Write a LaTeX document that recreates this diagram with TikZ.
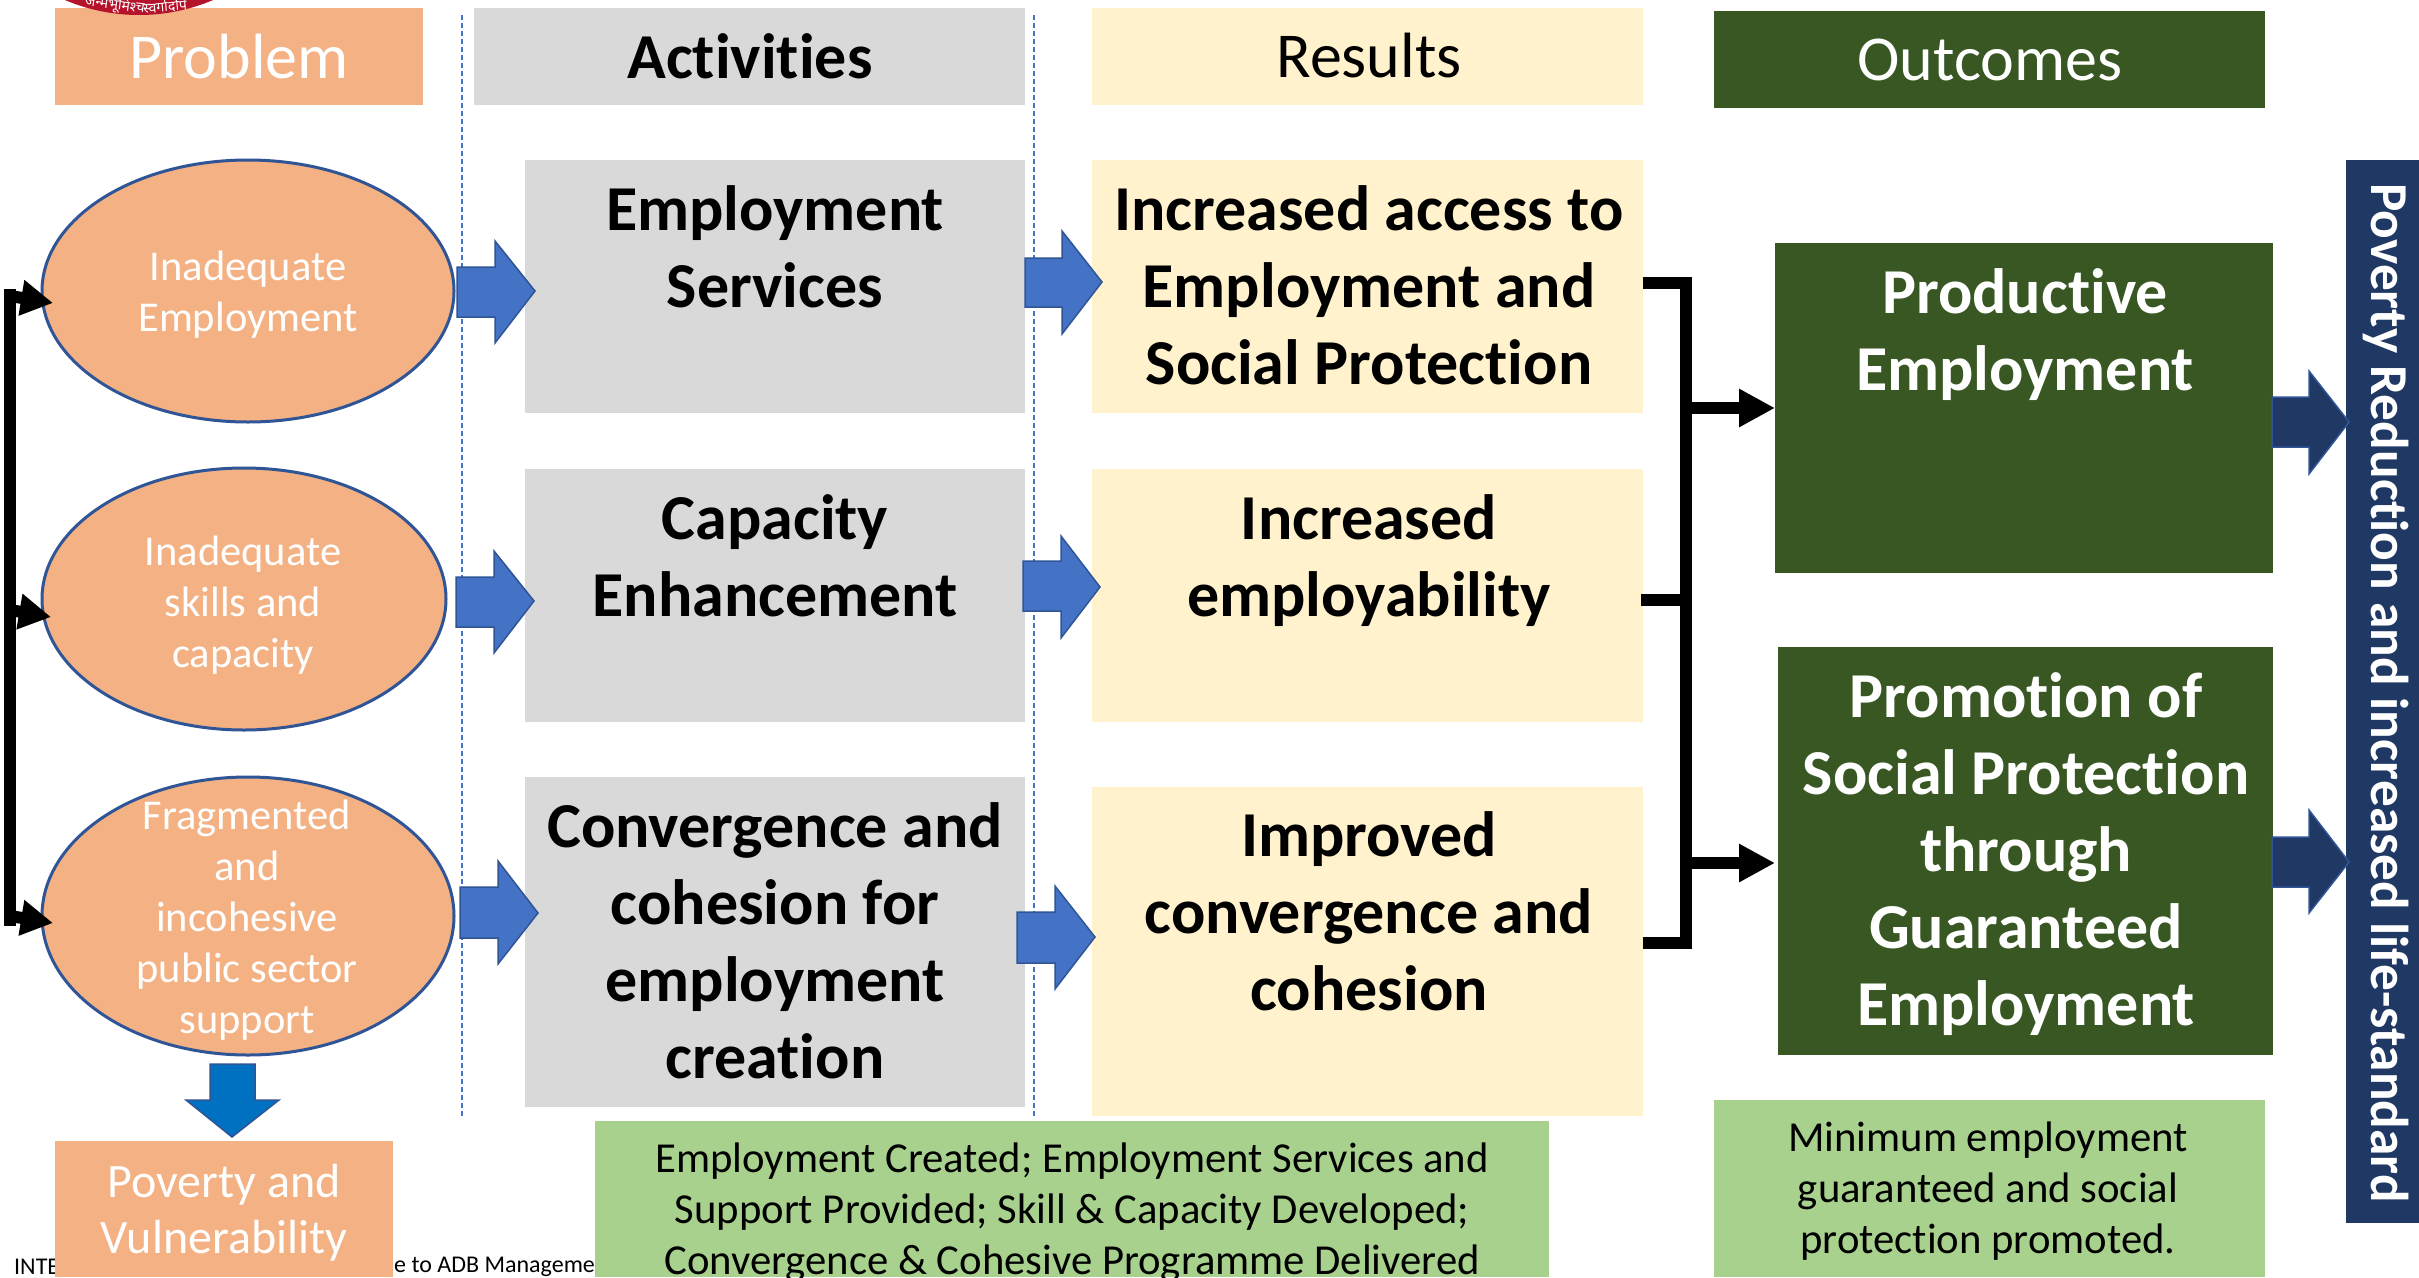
\documentclass[tikz,border=0pt]{standalone}
\usepackage{fontspec}
\setmainfont{Carlito}[RawFeature=-liga]
\newfontfamily\devafont[Script=Devanagari]{Noto Sans}
\usetikzlibrary{arrows.meta,shapes.geometric,calc}
\definecolor{peach}{HTML}{F4B183}
\definecolor{greyb}{HTML}{D9D9D9}
\definecolor{creamb}{HTML}{FFF2CC}
\definecolor{forest}{HTML}{385723}
\definecolor{leaf}{HTML}{A9D18E}
\definecolor{navy}{HTML}{203864}
\definecolor{bluea}{HTML}{4472C4}
\definecolor{blueline}{HTML}{2F5597}
\definecolor{downb}{HTML}{0070C0}
\definecolor{seal}{HTML}{B5122B}
\tikzset{
 x=1pt,y=-1pt,
 bx/.style={draw=none,inner sep=0pt,outer sep=0pt},
 hdr/.style={bx,font=\fontsize{64}{70}\selectfont,align=center},
 bigt/.style={font=\fontsize{64}{77}\selectfont\bfseries,align=center,anchor=north},
 elt/.style={font=\fontsize{42.5}{51}\selectfont,text=white,align=center},
 grt/.style={font=\fontsize{42.7}{51}\selectfont,align=center,anchor=north},
 sealt/.style={font=\fontsize{14}{16}\devafont,text=white,inner sep=0pt},
 blockar/.style={fill=bluea,draw=blueline,line width=1.5pt,line join=miter},
 darkar/.style={fill=navy,draw=blueline,line width=1.5pt,line join=miter},
 elli/.style={draw=blueline,line width=3pt,fill=peach},
 thick black/.style={draw=black,line width=12pt},
 dashv/.style={draw=bluea,line width=1.2pt,dash pattern=on 5pt off 3pt},
}
\newcommand{\harrow}[9]{\path[#9] (#1,#5) -- (#2,#5) -- (#2,#4) -- (#3,#8) -- (#2,#7) -- (#2,#6) -- (#1,#6) -- cycle;}
\begin{document}
\begin{tikzpicture}
\useasboundingbox (0,0) rectangle (2419,1277);
\fill[white] (0,0) rectangle (2419,1277);
% footer text
\node[anchor=west,font=\fontsize{24}{28}\selectfont,inner sep=0pt] (f1) at (14,1267) {INTE};
\node[anchor=west,font=\fontsize{24}{28}\selectfont,inner sep=0pt] (f2) at (394,1267) {e to ADB Manageme};
% dashed lines
\coordinate (d1a) at (462,15); \coordinate (d1b) at (462,1116);
\coordinate (d2a) at (1034,15); \coordinate (d2b) at (1034,1118);
\draw[dashv] (d1a) -- (d1b);
\draw[dashv] (d2a) -- (d2b);
% headers
\fill[peach] (55,8) rectangle (423,105);
\node[hdr,text=white] (hp) at (239,56) {Problem};
% seal
\begin{scope}
\clip (0,0) rectangle (2419,20);
\fill[seal] (139,-175) circle[radius=190];
\end{scope}
\node[sealt,rotate=-7] (s1t) at (115,5) {जन्मभूमिश्च};
\node[sealt,rotate=5] (s2t) at (165,6) {स्वर्गादपि};
\fill[greyb] (474,8) rectangle (1025,105);
\node[hdr] (ha) at (750,56) {\bfseries Activities};
\fill[creamb] (1092,8) rectangle (1643,105);
\node[hdr] (hr) at (1369,56) {Results};
\fill[forest] (1714,11) rectangle (2265,108);
\node[hdr,text=white] (ho) at (1990,60) {Outcomes};
% activity boxes
\fill[greyb] (525,160) rectangle (1025,413);
\node[bigt] (a1) at (775,182) {Employment\\Services};
\fill[greyb] (525,469) rectangle (1025,722);
\node[bigt] (a2) at (775,491) {Capacity\\Enhancement};
\fill[greyb] (525,777) rectangle (1025,1107);
\node[bigt] (a3) at (775,799) {Convergence and\\cohesion for\\employment\\creation};
% result boxes
\fill[creamb] (1092,160) rectangle (1643,413);
\node[bigt] (r1) at (1369,182) {Increased access to\\Employment and\\Social Protection};
\fill[creamb] (1092,469) rectangle (1643,722);
\node[bigt] (r2) at (1369,491) {Increased\\employability};
\fill[creamb] (1092,787) rectangle (1643,1116);
\node[bigt] (r3) at (1369,808) {Improved\\convergence and\\cohesion};
% outcome boxes
\fill[forest] (1775,243) rectangle (2273,573);
\node[bigt,text=white] (o1) at (2025,265) {Productive\\Employment};
\fill[forest] (1778,647) rectangle (2273,1055);
\node[bigt,text=white] (o2) at (2026,669) {Promotion of\\Social Protection\\through\\Guaranteed\\Employment};
% poverty bar
\fill[navy] (2346,160) rectangle (2419,1223);
\node[rotate=-90,text=white,font=\fontsize{53.3}{60}\selectfont\bfseries,inner sep=0pt] (pb) at (2386,693) {Poverty Reduction and increased life-standard};
% bottom boxes
\fill[peach] (55,1141) rectangle (393,1277);
\node[font=\fontsize{48}{56}\selectfont,text=white,align=center,anchor=north] (pv) at (224,1161) {Poverty and\\Vulnerability};
\fill[leaf] (595,1121) rectangle (1549,1277);
\node[grt] (g1) at (1072,1139) {Employment Created; Employment Services and\\Support Provided; Skill \& Capacity Developed;\\Convergence \& Cohesive Programme Delivered};
\fill[leaf] (1714,1100) rectangle (2265,1277);
\node[grt] (g2) at (1988,1118) {Minimum employment\\guaranteed and social\\protection promoted.};
% ellipses
\node[elli,ellipse,minimum width=412pt,minimum height=262pt,inner sep=0pt] (e1) at (248,291) {};
\node[elt] (et1) at (248,295) {Inadequate\\Employment};
\node[elli,ellipse,minimum width=404pt,minimum height=262pt,inner sep=0pt] (e2) at (244,599) {};
\node[elt] (et2) at (243,605) {Inadequate\\skills and\\capacity};
\node[elli,ellipse,minimum width=412pt,minimum height=278pt,inner sep=0pt] (e3) at (248,916) {};
\node[elt] (et3) at (247,920) {Fragmented\\and\\incohesive\\public sector\\support};
% block arrows
\harrow{457}{495}{535}{241}{267}{317}{343}{291}{blockar}
\harrow{1025}{1062}{1102}{231}{258}{307}{334}{282}{blockar}
\harrow{456}{494}{534}{551}{577}{627}{653}{601}{blockar}
\harrow{1023}{1061}{1100}{536}{561}{611}{638}{587}{blockar}
\harrow{460}{498}{538}{861}{887}{938}{964}{913}{blockar}
\harrow{1017}{1055}{1095}{886}{912}{963}{989}{937}{blockar}
\harrow{2272}{2309}{2349}{371}{397}{447}{474}{422}{darkar}
\harrow{2272}{2309}{2349}{810}{837}{887}{913}{862}{darkar}
% down arrow
\path[fill=downb,draw=blueline,line width=1.5pt] (210,1064) -- (255,1064) -- (255,1100) -- (279,1100) -- (232,1137) -- (186,1100) -- (210,1100) -- cycle;
% right bracket
\coordinate (b1) at (1643,283); \coordinate (b2) at (1641,600); \coordinate (b3) at (1643,943);
\coordinate (v1) at (1686,283); \coordinate (v2) at (1686,600); \coordinate (v3) at (1686,943);
\coordinate (t1) at (1775,408); \coordinate (t2) at (1775,863);
\coordinate (s1) at (1686,408); \coordinate (s2) at (1686,863);
\draw[thick black,line join=miter] (b1) -- (v1) -- (v3) -- (b3);
\draw[thick black] (b2) -- (v2);
\draw[thick black,-{Triangle[length=36pt,width=36pt]}] (s1) -- (t1);
\draw[thick black,-{Triangle[length=36pt,width=36pt]}] (s2) -- (t2);
% left spine
\coordinate (l0) at (10,289); \coordinate (l3) at (10,926);
\coordinate (k1) at (53,303); \coordinate (k2) at (51,617); \coordinate (k3) at (53,923);
\coordinate (j1) at (10,296); \coordinate (j2) at (10,610); \coordinate (j3) at (10,916);
\draw[thick black] (l0) -- (l3);
\draw[thick black,-{Triangle[length=32pt,width=34pt]}] (j1) -- (k1);
\draw[thick black,-{Triangle[length=32pt,width=34pt]}] (j2) -- (k2);
\draw[thick black,-{Triangle[length=32pt,width=34pt]}] (j3) -- (k3);
\end{tikzpicture}
\end{document}
